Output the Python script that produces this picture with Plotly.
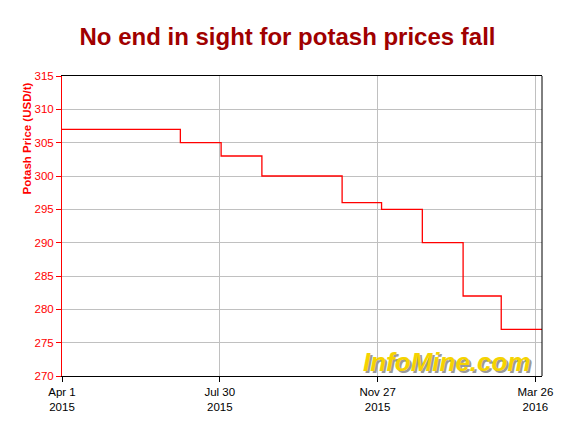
import plotly.graph_objects as go

# Data
change_dates = ["2015-04-01", "2015-06-30", "2015-07-31", "2015-08-31", "2015-10-31",
                "2015-11-30", "2015-12-31", "2016-01-31", "2016-02-29", "2016-03-31"]
prices = [307, 305, 303, 300, 296, 295, 290, 282, 277, 277]

tick_dates = ["2015-04-01", "2015-07-30", "2015-11-27", "2016-03-26"]
tick_labels = ["Apr 1<br>2015", "Jul 30<br>2015", "Nov 27<br>2015", "Mar 26<br>2016"]

FONT = "Liberation Sans, Arial, sans-serif"

fig = go.Figure()
fig.add_trace(go.Scatter(
    x=change_dates, y=prices, mode="lines",
    line=dict(color="#ff0000", width=1.3, shape="hv"),
    hoverinfo="skip", showlegend=False,
))

fig.update_layout(
    width=584, height=434,
    margin=dict(l=62, r=42, t=76, b=58),
    paper_bgcolor="white", plot_bgcolor="white",
    font=dict(family=FONT, size=11, color="black"),
    title=dict(
        text="<b>No end in sight for potash prices fall</b>",
        font=dict(family=FONT, size=24, color="#a00000"),
        x=(80 + 495) / 2 / 584, xanchor="center", xref="container",
        y=1 - 37 / 434, yanchor="middle", yref="container",
    ),
    xaxis=dict(
        type="date",
        range=["2015-04-01", "2016-03-31"],
        tickvals=tick_dates, ticktext=tick_labels,
        showgrid=True, gridcolor="#c0c0c0", gridwidth=1,
        showline=True, linecolor="black", linewidth=1, mirror=True,
        ticks="outside", ticklen=5, tickcolor="black",
        tickfont=dict(family=FONT, size=11.5, color="black"),
        zeroline=False,
    ),
    yaxis=dict(
        range=[270, 315], dtick=5, tick0=270,
        showgrid=True, gridcolor="#c0c0c0", gridwidth=1,
        showline=True, linecolor="#ff0000", linewidth=1,
        ticks="outside", ticklen=5, tickcolor="#ff0000",
        tickfont=dict(family=FONT, size=11.5, color="#ff0000"),
        zeroline=False,
    ),
    shapes=[dict(type="line", xref="paper", yref="paper", x0=1, x1=1, y0=0, y1=1,
                 line=dict(color="black", width=1))],
    annotations=[
        dict(text="<b>Potash Price (USD/t)</b>", textangle=-90,
             xref="paper", yref="paper", x=0, y=1, xanchor="center", yanchor="top",
             xshift=-35.5, yshift=-5, showarrow=False,
             font=dict(family=FONT, size=11.5, color="#ff0000")),
        dict(text="<b><i>InfoMine.com</i></b>",
             xref="paper", yref="paper", x=(447 - 62) / 480, y=(376 - 362) / 300,
             xanchor="center", yanchor="middle", showarrow=False,
             font=dict(family=FONT, size=26, color="#f5d300",
                       shadow="2px 2px 0px #9a9a9a")),
    ],
)

fig.write_html("out.html", config={"displayModeBar": False},
               post_script="document.body.style.margin='0';")
